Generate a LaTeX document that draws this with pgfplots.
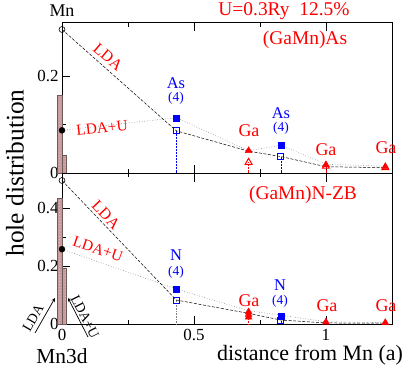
\documentclass[border=0pt]{standalone}
\usepackage{fontspec}
\setmainfont{Liberation Serif}
\usepackage{pgfplots}
\pgfplotsset{compat=1.18}
\usetikzlibrary{patterns}
\definecolor{barfill}{RGB}{200,155,155}
\definecolor{baredge}{RGB}{110,90,90}
\pgfplotsset{
  common/.style={
    scale only axis, anchor=south west, width=330.7bp,
    xmin=0, xmax=1.253, ymin=0,
    clip=false,
    axis line style={line width=0.7pt},
    tick align=inside, major tick length=8bp, minor tick length=4bp,
    tick style={black, line width=0.6pt},
    xtick={0,0.5,1}, minor xtick={0.25,0.75},
    xtick pos=both, ytick pos=left,
    /pgf/number format/assume math mode=true,
    tick label style={font=\fontsize{17}{17}\selectfont},
    xticklabel style={yshift=-1bp},
  },
  ldal/.style={black, line width=0.5pt, dash pattern=on 3pt off 1.6pt},
  ldaul/.style={gray, line width=0.6pt, dotted},
  bar/.style={fill=barfill, draw=baredge, line width=0.4pt,
    postaction={pattern=dots, pattern color=white!60!barfill}},
}
\begin{document}
\begin{tikzpicture}[x=1bp,y=1bp]
\path[use as bounding box] (0,0) rectangle (409,368);
% ---------------- top panel
\begin{axis}[common, at={(62bp,195bp)}, height=150.3bp, ymax=0.31,
  ytick={0,0.2}, minor ytick={0.1}, xticklabels={}]
\addplot[blue, densely dotted, line width=0.5pt] coordinates {(0.433,0) (0.433,0.087)};
\addplot[blue, densely dotted, line width=0.5pt] coordinates {(0.829,0) (0.829,0.034)};
\addplot[red, densely dotted, line width=0.5pt] coordinates {(0.707,0) (0.707,0.022)};
\addplot[red, densely dotted, line width=0.5pt] coordinates {(1.0,0) (1.0,0.014)};
\addplot[ldaul] coordinates {(0,0.088) (0.433,0.114) (0.707,0.046) (0.829,0.057) (1.0,0.018) (1.225,0.014)};
\addplot[ldal] coordinates {(0,0.296) (0.433,0.087) (0.707,0.045) (0.829,0.034) (1.0,0.013) (1.225,0.011)};
\addplot[only marks, mark=o, mark size=3bp, black, line width=0.6pt] coordinates {(0,0.296)};
\addplot[only marks, mark=*, mark size=3bp, black] coordinates {(0,0.088)};
\addplot[only marks, mark=square*, mark size=3bp, blue] coordinates {(0.433,0.114) (0.829,0.057)};
\addplot[only marks, mark=square, mark size=3bp, blue, line width=0.8pt] coordinates {(0.433,0.087) (0.829,0.034)};
\addplot[only marks, mark=triangle*, mark size=4bp, red] coordinates {(0.707,0.046) (1.0,0.017) (1.225,0.013)};
\addplot[only marks, mark=triangle, mark size=4bp, red, line width=1pt] coordinates {(0.707,0.022) (1.0,0.014) (1.225,0.011)};
\addplot[bar] coordinates {(-0.018,0) (-0.018,0.161) (0,0.161) (0,0)} -- cycle;
\addplot[bar] coordinates {(0,0) (0,0.0375) (0.015,0.0375) (0.015,0)} -- cycle;
\end{axis}
% ---------------- bottom panel
\begin{axis}[common, at={(62bp,43.6bp)}, height=150.9bp, ymax=0.52,
  ytick={0,0.2,0.4}, minor ytick={0.1,0.3}, xticklabels={0,0.5,1},
  yticklabels={0,0.2,0.4}]
\addplot[gray, densely dotted, line width=0.6pt] coordinates {(0.433,0) (0.433,0.084)};
\addplot[blue, densely dotted, line width=0.5pt] coordinates {(0.829,0) (0.829,0.014)};
\addplot[red, densely dotted, line width=0.5pt] coordinates {(0.707,0) (0.707,0.025)};
\addplot[ldaul] coordinates {(0,0.259) (0.433,0.122) (0.707,0.047) (0.829,0.032) (1.0,0.009) (1.225,0.006)};
\addplot[ldal] coordinates {(0,0.496) (0.433,0.084) (0.707,0.038) (0.829,0.015) (1.0,0.005) (1.225,0.004)};
\addplot[only marks, mark=o, mark size=3bp, black, line width=0.6pt] coordinates {(0,0.496)};
\addplot[only marks, mark=*, mark size=3bp, black] coordinates {(0,0.259)};
\addplot[only marks, mark=square*, mark size=3bp, blue] coordinates {(0.433,0.122) (0.829,0.029)};
\addplot[only marks, mark=square, mark size=3bp, blue, line width=0.8pt] coordinates {(0.433,0.084) (0.829,0.014)};
\addplot[only marks, mark=triangle*, mark size=4bp, red] coordinates {(0.707,0.043) (0.707,0.034) (0.707,0.025) (1.0,0.008) (1.225,0.006)};
\addplot[bar] coordinates {(-0.018,0) (-0.018,0.434) (0,0.434) (0,0)} -- cycle;
\addplot[bar] coordinates {(0,0) (0,0.194) (0.015,0.194) (0.015,0)} -- cycle;
\end{axis}
% ---------------- texts (picture coordinates: x = px, y = 368 - py)
\node[font=\fontsize{18}{18}\selectfont] at (62,357) {Mn};
\node[red, font=\fontsize{19.5}{19.5}\selectfont] at (284,357) {U=0.3Ry\ \ 12.5\%};
\node[red, font=\fontsize{19.5}{19.5}\selectfont] at (305,328) {(GaMn)As};
\node[red, font=\fontsize{16}{16}\selectfont, rotate=-40] at (108,311) {LDA};
\node[red, font=\fontsize{15.5}{15.5}\selectfont, rotate=6] at (102,240) {LDA+U};
\node[blue, font=\fontsize{16.5}{16.5}\selectfont] at (176,285) {As};
\node[blue, font=\fontsize{13.5}{13.5}\selectfont] at (176,270) {(4)};
\node[red, font=\fontsize{18}{18}\selectfont] at (249,237) {Ga};
\node[blue, font=\fontsize{16.5}{16.5}\selectfont] at (281,255) {As};
\node[blue, font=\fontsize{13.5}{13.5}\selectfont] at (281,240) {(4)};
\node[red, font=\fontsize{18}{18}\selectfont] at (326,218) {Ga};
\node[red, font=\fontsize{18}{18}\selectfont] at (386,220) {Ga};
% bottom panel texts
\node[red, font=\fontsize{19.5}{19.5}\selectfont] at (303,173) {(GaMn)N-ZB};
\node[red, font=\fontsize{16}{16}\selectfont, rotate=-46] at (106,153) {LDA};
\node[red, font=\fontsize{15.5}{15.5}\selectfont, rotate=-19] at (98,119) {LDA+U};
\node[blue, font=\fontsize{16.5}{16.5}\selectfont] at (176,113) {N};
\node[blue, font=\fontsize{13.5}{13.5}\selectfont] at (176,96) {(4)};
\node[red, font=\fontsize{18}{18}\selectfont] at (249,67) {Ga};
\node[blue, font=\fontsize{16.5}{16.5}\selectfont] at (280,83) {N};
\node[blue, font=\fontsize{13.5}{13.5}\selectfont] at (280,67) {(4)};
\node[red, font=\fontsize{18}{18}\selectfont] at (327,62) {Ga};
\node[red, font=\fontsize{18}{18}\selectfont] at (386,62) {Ga};
% axis labels
\node[rotate=90, font=\fontsize{25.5}{25.5}\selectfont] at (15,195) {hole distribution};
\node[font=\fontsize{22}{22}\selectfont] at (310,13) {distance from Mn (a)};
\node[font=\fontsize{21.5}{21.5}\selectfont] at (62,12) {Mn3d};
% Mn3d arrows
\draw[-stealth, line width=0.7pt] (35,35) -- (55,70);
\draw[-stealth, line width=0.7pt] (88,31) -- (68,70);
\node[font=\fontsize{14}{14}\selectfont, rotate=60] at (33,50) {LDA};
\node[font=\fontsize{14}{14}\selectfont, rotate=-63] at (85,51) {LDA+U};
\end{tikzpicture}
\end{document}
